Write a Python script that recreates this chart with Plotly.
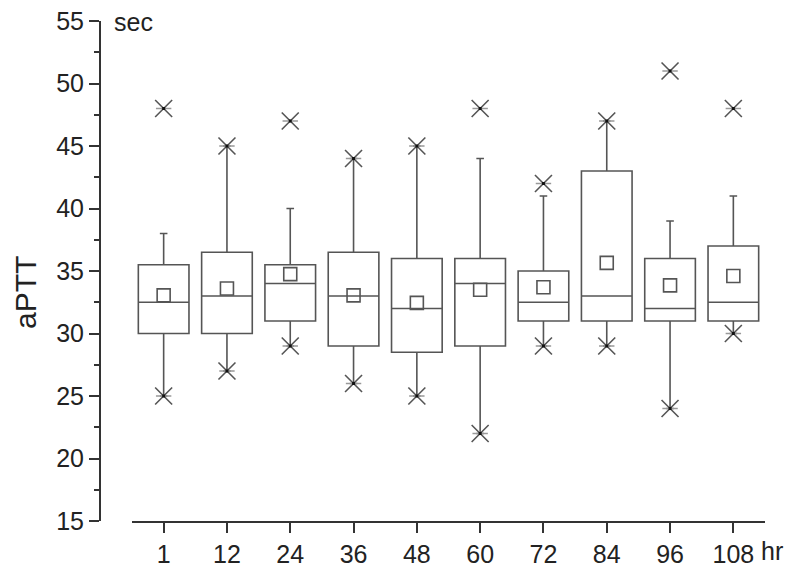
import plotly.graph_objects as go

categories = ["1", "12", "24", "36", "48", "60", "72", "84", "96", "108"]
q1 = [30, 30, 31, 29, 28.5, 29, 31, 31, 31, 31]
median = [32.5, 33, 34, 33, 32, 34, 32.5, 33, 32, 32.5]
q3 = [35.5, 36.5, 35.5, 36.5, 36, 36, 35, 43, 36, 37]
whisker_low = [25, 27, 29, 26, 25, 22, 29, 29, 24, 30]
whisker_high = [38, 45, 40, 44, 45, 44, 41, 47, 39, 41]
mean = [33.05, 33.6, 34.75, 33.05, 32.45, 33.5, 33.7, 35.65, 33.85, 34.6]
minimum = [25, 27, 29, 26, 25, 22, 29, 29, 24, 30]
maximum = [48, 45, 47, 44, 45, 48, 42, 47, 51, 48]

W, H = 800, 571
OFF = 8  # page body margin compensation


def px(x):
    return (x - OFF) / W


def py(y):
    return 1 - (y - OFF) / H


FONT = "Liberation Sans, Arial, sans-serif"
LINE = "#555555"
AX = "#333333"
TXT = "#222222"

fig = go.Figure()

fig.add_trace(go.Box(
    x=categories, q1=q1, median=median, q3=q3,
    lowerfence=whisker_low, upperfence=whisker_high,
    width=0.8, whiskerwidth=0.15, boxpoints=False,
    fillcolor="rgba(0,0,0,0)", line=dict(color=LINE, width=1.6),
    showlegend=False, hoverinfo="skip",
))

fig.add_trace(go.Scatter(
    x=categories, y=mean, mode="markers",
    marker=dict(symbol="square-open", size=13, color=LINE, line=dict(width=1.6, color=LINE)),
    showlegend=False, hoverinfo="skip",
))

for vals in (minimum, maximum):
    fig.add_trace(go.Scatter(
        x=categories, y=vals, mode="markers",
        marker=dict(symbol="x-thin-open", size=17, color="#555555", line=dict(width=1.6, color="#555555")),
        showlegend=False, hoverinfo="skip",
    ))
    fig.add_trace(go.Scatter(
        x=categories, y=vals, mode="markers",
        marker=dict(symbol="line-ew-open", size=11, color="#999999", line=dict(width=1.5, color="#999999")),
        showlegend=False, hoverinfo="skip",
    ))
    fig.add_trace(go.Scatter(
        x=categories, y=vals, mode="markers",
        marker=dict(symbol="square", size=3, color="#111111", line=dict(width=0)),
        showlegend=False, hoverinfo="skip",
    ))

fig.update_layout(
    width=W, height=H,
    margin=dict(l=0, r=0, t=0, b=0, autoexpand=False),
    paper_bgcolor="white", plot_bgcolor="white",
    font=dict(family=FONT, size=25, color=TXT),
    xaxis=dict(
        type="category", range=[-0.5, 9.5],
        domain=[px(132), px(765)],
        showline=True, linecolor=AX, linewidth=2,
        ticks="outside", ticklen=10, tickwidth=2, tickcolor=AX,
        showgrid=False, zeroline=False, ticklabeloverflow="allow",
        tickfont=dict(size=25, color=TXT, family=FONT),
    ),
    yaxis=dict(
        range=[15, 55], tickvals=[15, 20, 25, 30, 35, 40, 45, 50, 55],
        domain=[py(521), py(21)],
        anchor="free", position=px(100),
        showline=True, linecolor=AX, linewidth=2,
        ticks="outside", ticklen=10, tickwidth=2, tickcolor=AX,
        minor=dict(ticks="outside", ticklen=5, tickvals=[17.5, 22.5, 27.5, 32.5, 37.5, 42.5, 47.5, 52.5],
                   tickwidth=2, tickcolor=AX, showgrid=False),
        showgrid=False, zeroline=False, ticklabeloverflow="allow",
        tickfont=dict(size=25, color=TXT, family=FONT),
    ),
    annotations=[
        dict(text="aPTT", x=px(25), y=py(293), xref="paper", yref="paper",
             xanchor="center", yanchor="middle", textangle=-90, showarrow=False,
             font=dict(size=30, color=TXT, family=FONT)),
        dict(text="sec", x=px(112), y=py(22), xref="paper", yref="paper",
             xanchor="left", yanchor="middle", showarrow=False,
             font=dict(size=25, color=TXT, family=FONT)),
        dict(text="hr", x=px(759), y=py(551), xref="paper", yref="paper",
             xanchor="left", yanchor="middle", showarrow=False,
             font=dict(size=25, color=TXT, family=FONT)),
    ],
)

fig.write_html("out.html")
